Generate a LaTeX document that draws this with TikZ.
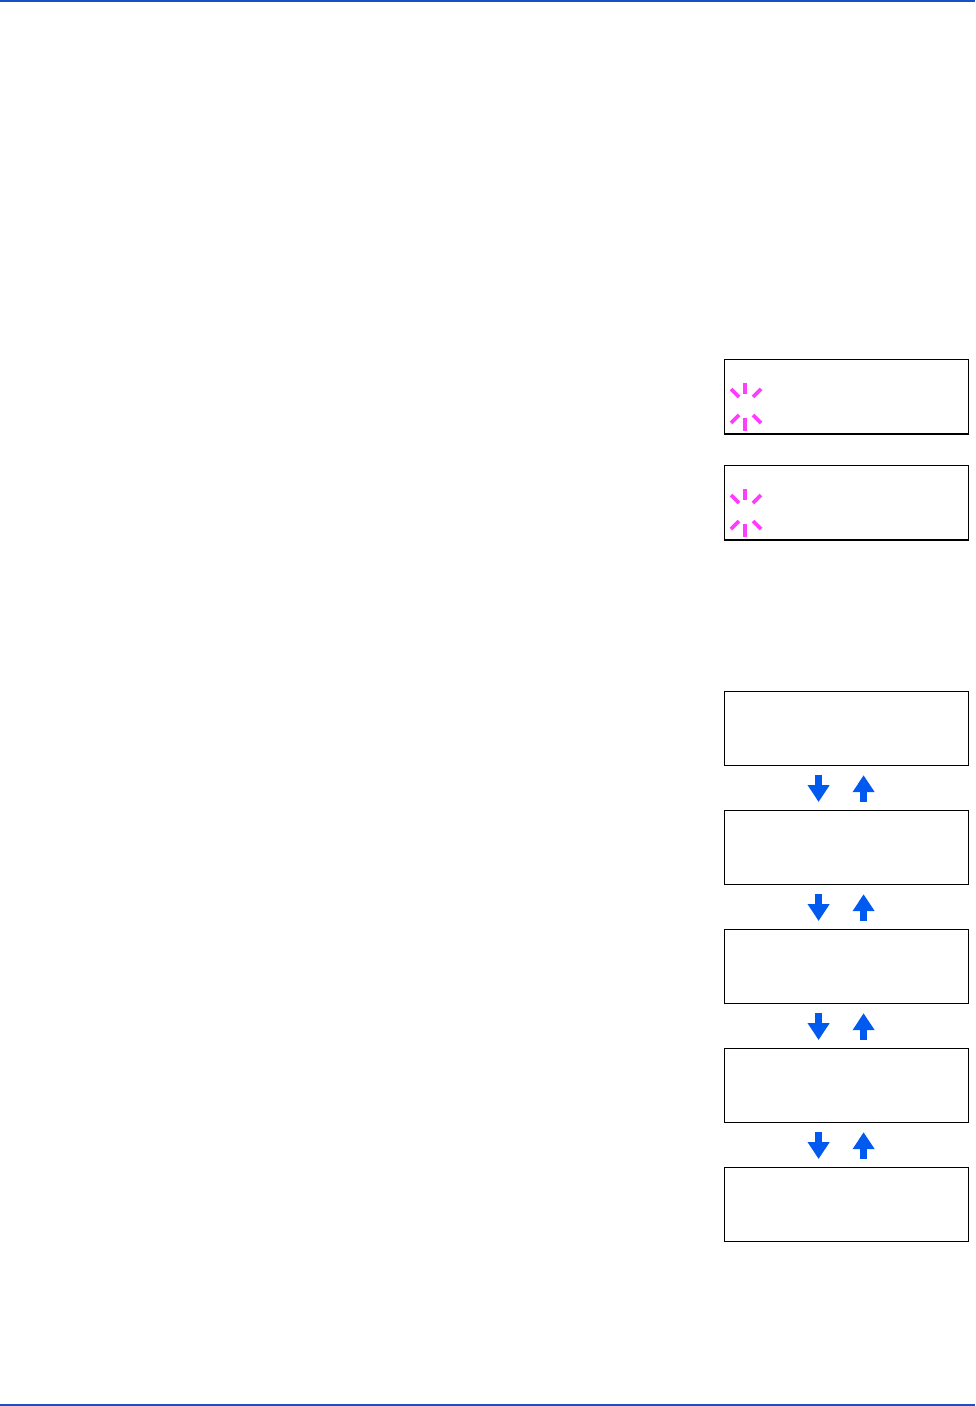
\documentclass[tikz,border=0pt]{standalone}
\usetikzlibrary{arrows.meta}
\definecolor{rulecol}{RGB}{25,80,195}
\definecolor{arrcol}{RGB}{0,90,240}
\definecolor{curcol}{RGB}{255,60,255}
\begin{document}
\begin{tikzpicture}[x=1pt,y=-1pt,
  lcd/.style={draw=black,line width=1.2pt,minimum width=244pt,minimum height=74pt,inner sep=0pt,anchor=north west},
  navarrow/.style={draw=arrcol,line width=7pt,-{Triangle[width=21pt,length=17pt]}},
  cur/.style={draw=curcol,line width=3.6pt}]
\useasboundingbox (0,0) rectangle (975,1406);
\draw[rulecol,line width=1.3pt] (0,1) -- (975,1);
\draw[rulecol,line width=1.3pt] (0,1405) -- (975,1405);
% blinking-cursor displays
\node[lcd] (a1) at (724,359) {};
\node[lcd] (a2) at (724,465) {};
\draw[line width=2.4pt] (a1.south west) -- (a1.south east);
\draw[line width=2.4pt] (a2.south west) -- (a2.south east);
\foreach \n/\dy in {a1/0,a2/106}{
  \draw[cur] (745,383+\dy) -- (745,394+\dy);
  \draw[cur] (731,389+\dy) -- (739,397+\dy);
  \draw[cur] (753,397+\dy) -- (761,389+\dy);
  \draw[cur] (731,423+\dy) -- (739,415+\dy);
  \draw[cur] (753,415+\dy) -- (761,423+\dy);
  \draw[cur] (745,418+\dy) -- (745,431+\dy);
}
% menu sequence
\node[lcd] (b1) at (724,691) {};
\node[lcd] (b2) at (724,810) {};
\node[lcd] (b3) at (724,929) {};
\node[lcd] (b4) at (724,1048) {};
\node[lcd] (b5) at (724,1167) {};
\foreach \u/\l in {b1/b2,b2/b3,b3/b4,b4/b5}{
  \draw[navarrow] ([xshift=-28pt,yshift=-9pt]\u.south) -- ([xshift=-28pt,yshift=8pt]\l.north);
  \draw[navarrow] ([xshift=17pt,yshift=8pt]\l.north) -- ([xshift=17pt,yshift=-9pt]\u.south);
}
\end{tikzpicture}
\end{document}
